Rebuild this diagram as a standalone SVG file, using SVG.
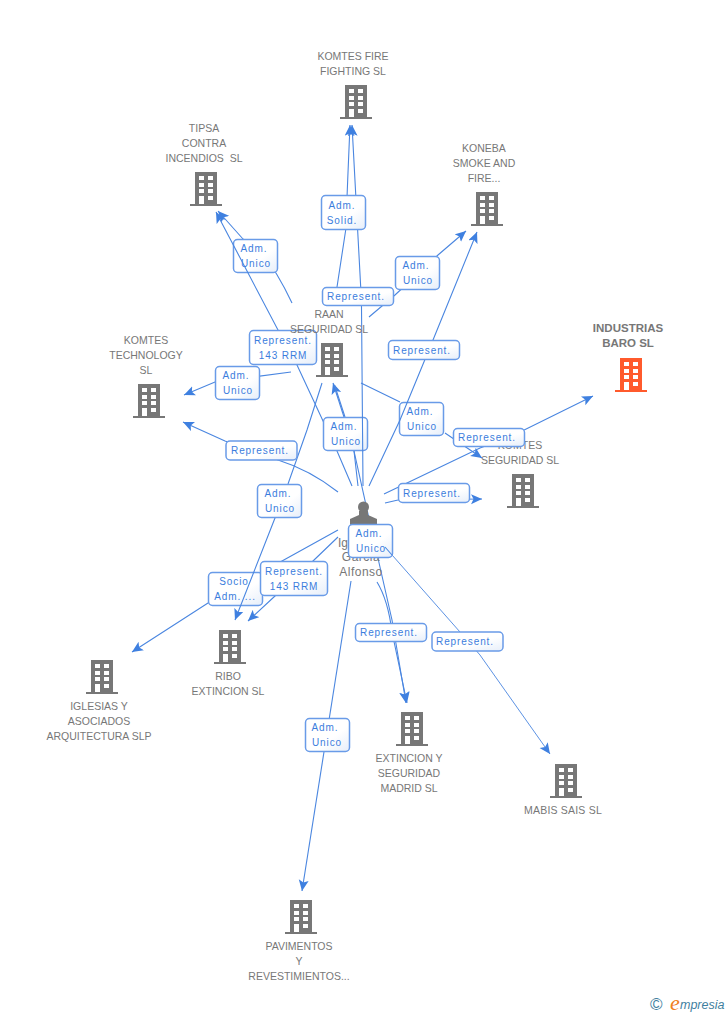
<svg xmlns="http://www.w3.org/2000/svg" width="728" height="1015" viewBox="0 0 728 1015">
<style>
text{font-family:"Liberation Sans",Arial,sans-serif}
.n text{font-size:10.5px;fill:#777;text-anchor:middle}
.b{fill:#777}.w{fill:#fff}
.c{fill:none;stroke:#4a86e0;stroke-width:1.1;marker-end:url(#a)}
.p{fill:none;stroke:#4a86e0;stroke-width:1.1}
.l{fill:url(#g);stroke:#699be8;stroke-width:1.5}
.t{font-size:10px;fill:#3b7ddd;text-anchor:middle;letter-spacing:.9px}
</style>
<defs>
<linearGradient id="g" x1="0" y1="0" x2="1" y2="1"><stop offset="0" stop-color="#fff"/><stop offset=".6" stop-color="#fff"/><stop offset="1" stop-color="#e6eefa"/></linearGradient>
<marker id="a" markerUnits="userSpaceOnUse" markerWidth="12" markerHeight="11" refX="11" refY="5" orient="auto"><path d="M0,0L11,5L0,10L2.500,5z" fill="#3f80e0"/></marker>
<g id="i"><path d="M-16,32h32v2h-32zM-11,0h22v32h-22z"/><path class="w" d="M-7,4h5v4h-5zM2,4h5v4h-5zM-7,11h5v4h-5zM2,11h5v4h-5zM-7,17h5v4h-5zM2,17h5v4h-5zM-7,24h5v8h-5zM2,24h5v4h-5z"/></g>
</defs>
<g id="n7" class="n"><text x="520" y="449">KOMTES</text><text x="520" y="464">SEGURIDAD SL</text><use href="#i" class="b" x="523" y="474"/></g>
<g id="connectors">
<path class="c" d="M361,383L400,402M445,433L482,458"/>
<rect class="l" x="399.500" y="402.500" width="44" height="33" rx="4"/><text class="t" x="420" y="415">Adm.</text><text class="t" x="422" y="430">Unico</text>
<path class="c" d="M292,303Q285,288 276,273L243,239L218,211"/>
<rect class="l" x="233.500" y="239.500" width="44" height="33" rx="4"/><text class="t" x="254" y="252">Adm.</text><text class="t" x="256" y="267">Unico</text>
<path class="c" d="M352,486L337,451L297,365L278,330L216,212"/>
<rect class="l" x="249.500" y="330.500" width="67" height="34" rx="4"/><text class="t" x="283" y="344">Represent.</text><text class="t" x="283" y="359">143 RRM</text>
<path class="c" d="M338,530L282,561L208,603L132,652"/>
<rect class="l" x="208.500" y="572.500" width="54" height="33" rx="4"/><text class="t" x="234" y="585">Socio</text><text class="t" x="235" y="600">Adm. ...</text>
<path class="c" d="M322,383L307,430L288,484L275,518L235,620"/>
<rect class="l" x="257.500" y="484.500" width="44" height="33" rx="4"/><text class="t" x="278" y="497">Adm.</text><text class="t" x="280" y="512">Unico</text>
<path class="c" d="M338,537L313,561L275,596L248,621"/>
<rect class="l" x="260.500" y="561.500" width="67" height="34" rx="4"/><text class="t" x="294" y="575">Represent.</text><text class="t" x="294" y="590">143 RRM</text>
<path class="c" d="M291,372L215,382L184,395"/>
<rect class="l" x="215.500" y="366.500" width="44" height="33" rx="4"/><text class="t" x="236" y="379">Adm.</text><text class="t" x="238" y="394">Unico</text>
<path class="c" d="M338,492Q310,470 278,460L225,441L183,422"/>
<rect class="l" x="226" y="441" width="71" height="19" rx="4"/><text class="t" x="260" y="454">Represent.</text>
<path class="c" d="M344,417L333,383"/><path class="p" d="M345,417L334.500,385M354,451L358,486"/>
<rect class="l" x="323.500" y="417.500" width="44" height="33" rx="4"/><text class="t" x="344" y="430">Adm.</text><text class="t" x="346" y="445">Unico</text>
<path class="c" d="M363,486L361.500,307L360.700,287L352,125"/>
<path class="c" d="M337,287L345.700,230L347.700,180L350,125"/>
<rect class="l" x="321.500" y="195.500" width="44" height="34" rx="4"/><text class="t" x="342" y="209">Adm.</text><text class="t" x="342" y="224">Solid.</text>
<path class="c" d="M369,317L395,295L438,255L466,231"/>
<rect class="l" x="395.500" y="256.500" width="44" height="33" rx="4"/><text class="t" x="416" y="269">Adm.</text><text class="t" x="418" y="284">Unico</text>
<rect class="l" x="322.500" y="287.500" width="71" height="18" rx="4"/><text class="t" x="356" y="300">Represent.</text>
<path class="c" d="M369,486L400,420L433,340L477,232"/>
<rect class="l" x="388.500" y="340.500" width="71" height="19" rx="4"/><text class="t" x="422" y="354">Represent.</text>
<path class="c" d="M384,494L407,483L480,448L510,437L593,396"/>
<rect class="l" x="453.500" y="428.500" width="71" height="18" rx="4"/><text class="t" x="487" y="441">Represent.</text>
<path class="c" d="M385,503L398,500L482,499"/>
<rect class="l" x="398.500" y="483.500" width="71" height="19" rx="4"/><text class="t" x="432" y="497">Represent.</text>
<path class="c" style="stroke-width:.9" d="M385,547L460,632L480,655L550,754"/>
<rect class="l" x="432" y="632" width="71" height="19" rx="4"/><text class="t" x="465" y="645">Represent.</text>
<path class="c" d="M351,581L302,891"/>
<rect class="l" x="305.500" y="718.500" width="44" height="33" rx="4"/><text class="t" x="325" y="731">Adm.</text><text class="t" x="327" y="746">Unico</text>
<path class="c" d="M377,582Q388,600 392,632L407,703"/>
<path class="c" d="M354,451L370,523L392,620L406,703"/>
<rect class="l" x="355.500" y="623.500" width="71" height="18" rx="4"/><text class="t" x="389" y="636">Represent.</text>
</g>
<g id="person" class="b"><circle cx="363.500" cy="507" r="5.500"/><path d="M359,511h9v4l9,4v9h-27v-9l9,-4z"/></g>
<g id="n-person"><text x="338" y="547" style="font-size:12px;fill:#777">Ig</text><text x="361" y="561" style="font-size:12px;fill:#777;text-anchor:middle;letter-spacing:.5px">Garcia</text><text x="361" y="576" style="font-size:12px;fill:#777;text-anchor:middle;letter-spacing:.5px">Alfonso</text></g>
<g id="connector-top"><rect class="l" x="348.500" y="524.500" width="44" height="33" rx="4"/><text class="t" x="369" y="537">Adm.</text><text class="t" x="371" y="552">Unico</text><path class="p" d="M385,547L392,555"/></g>
<g id="n1" class="n"><text x="353" y="60">KOMTES FIRE</text><text x="353" y="75">FIGHTING SL</text><use href="#i" class="b" x="356" y="85"/></g>
<g id="n2" class="n"><text x="204" y="132">TIPSA</text><text x="204" y="147">CONTRA</text><text x="204" y="162">INCENDIOS&#160; SL</text><use href="#i" class="b" x="206" y="172"/></g>
<g id="n3" class="n"><text x="484" y="152">KONEBA</text><text x="484" y="167">SMOKE AND</text><text x="484" y="182">FIRE...</text><use href="#i" class="b" x="487" y="192"/></g>
<g id="n4" class="n"><text x="329" y="318">RAAN</text><text x="329" y="333">SEGURIDAD SL</text><use href="#i" class="b" x="332" y="343"/></g>
<g id="n5" class="n"><text x="146" y="344">KOMTES</text><text x="146" y="359">TECHNOLOGY</text><text x="146" y="374">SL</text><use href="#i" class="b" x="149" y="384"/></g>
<g id="n6"><text x="628" y="332" style="font-size:11.500px;font-weight:bold;fill:#777;text-anchor:middle">INDUSTRIAS</text><text x="628" y="347" style="font-size:11.500px;font-weight:bold;fill:#777;text-anchor:middle">BARO SL</text><use href="#i" fill="#ff5a2c" x="631" y="358"/></g>
<g id="n8" class="n"><text x="99" y="710">IGLESIAS Y</text><text x="99" y="725">ASOCIADOS</text><text x="99" y="740">ARQUITECTURA SLP</text><use href="#i" class="b" x="102" y="660"/></g>
<g id="n9" class="n"><text x="228" y="680">RIBO</text><text x="228" y="695">EXTINCION SL</text><use href="#i" class="b" x="230" y="630"/></g>
<g id="n10" class="n"><text x="409" y="762">EXTINCION Y</text><text x="409" y="777">SEGURIDAD</text><text x="409" y="792">MADRID SL</text><use href="#i" class="b" x="412" y="712"/></g>
<g id="n11" class="n"><text x="563" y="814" style="letter-spacing:.2px">MABIS SAIS SL</text><use href="#i" class="b" x="566" y="764"/></g>
<g id="n12" class="n"><text x="299" y="950">PAVIMENTOS</text><text x="299" y="965">Y</text><text x="299" y="980">REVESTIMIENTOS...</text><use href="#i" class="b" x="301" y="900"/></g>
<g id="logo"><text x="650" y="1010" style="font-size:17px;fill:#3f7f9f">©</text><text x="670" y="1010" style="font-size:22px;font-style:italic;fill:#f08020;font-family:'Liberation Serif',serif">e</text><text x="680" y="1009" style="font-size:12.500px;font-style:italic;fill:#3f7f9f">mpresia</text></g>
</svg>
